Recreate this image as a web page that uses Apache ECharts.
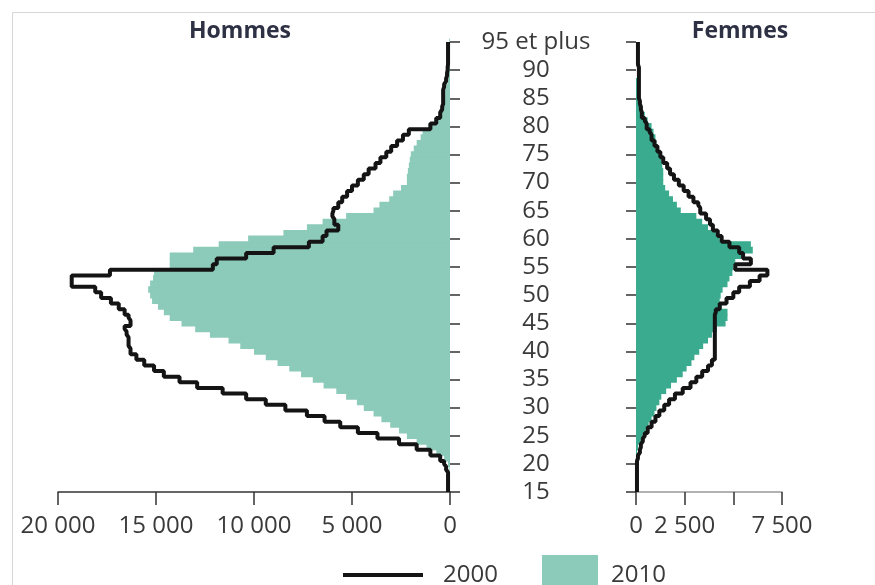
<!DOCTYPE html>
<html>
<head>
<meta charset="utf-8">
<script src="https://cdn.jsdelivr.net/npm/echarts@6/dist/echarts.min.js"></script>
<style>
html,body{margin:0;padding:0;background:#fff;}
#chart{width:875px;height:585px;}
</style>
</head>
<body>
<div id="chart"></div>
<script>
// Ages 15 .. 95 et plus
var ages = [];
for (var a = 15; a <= 95; a++) ages.push(a === 95 ? '95 et plus' : String(a));

// Hommes 2010 (bars), ages 15..95
var men2010 = [
  0, 0, 0, 0, 30, 100, 300, 700, 1200, 1700,          // 15-24
  2200, 2600, 3050, 3500, 3900, 4400, 4750, 5300, 5800, 6450, // 25-34
  7000, 7600, 8200, 8800, 9400, 10000, 10700, 11300, 12250, 13000, // 35-44
  13700, 14300, 14600, 14900, 15200, 15300, 15400, 15300, 15150, 15100, // 45-54
  14300, 14300, 14300, 13100, 11800, 10300, 8500, 7300, 6500, 5300, // 55-64
  3900, 3600, 3100, 2900, 2500, 2200, 2200, 2150, 2100, 2050, // 65-74
  2000, 1850, 1700, 1500, 1400, 1100, 800, 500, 400, 400,     // 75-84
  300, 250, 200, 100, 50, 50, 40, 30, 30, 20, 40               // 85-95
];
// Hommes 2000 (line)
var men2000 = [
  100, 100, 100, 100, 200, 300, 500, 1000, 1700, 2600,
  3700, 4700, 5600, 6400, 7300, 8400, 9400, 10400, 11600, 12900,
  13800, 14600, 15100, 15600, 16000, 16300, 16400, 16400, 16500, 16600,
  16300, 16400, 16600, 16900, 17300, 17800, 18100, 19300, 19300, 17350,
  12100, 11900, 10400, 9000, 7200, 6500, 6300, 5700, 5900, 6000,
  5950, 5700, 5500, 5250, 5000, 4700, 4400, 4150, 3800, 3550,
  3250, 3000, 2700, 2400, 2100, 1000, 700, 500, 400, 350,
  350, 350, 300, 200, 150, 120, 100, 100, 100, 100, 100
];
// Femmes 2010 (bars)
var women2010 = [
  0, 0, 0, 0, 0, 0, 0, 50, 100, 250,
  350, 500, 650, 800, 950, 1050, 1200, 1300, 1550, 1800,
  2100, 2400, 2600, 2850, 3000, 3250, 3450, 3700, 3900, 4150,
  4600, 4700, 4700, 4400, 4300, 4350, 4450, 4700, 4800, 4950,
  5000, 5100, 5400, 6000, 5900, 4300, 4100, 3700, 3400, 3100,
  2300, 2100, 1900, 1700, 1500, 1400, 1400, 1400, 1350, 1300,
  1250, 1150, 1050, 1000, 900, 800, 600, 450, 350, 250,
  200, 150, 100, 50, 0, 0, 0, 0, 0, 0, 0
];
// Femmes 2000 (line)
var women2000 = [
  50, 50, 50, 50, 50, 50, 100, 200, 250, 350,
  450, 600, 800, 1000, 1200, 1450, 1700, 2000, 2400, 2800,
  3100, 3400, 3700, 3900, 4050, 4050, 4050, 4050, 4050, 4050,
  4050, 4050, 4100, 4300, 4650, 5000, 5300, 5850, 6350, 6750,
  5100, 5900, 5500, 5300, 4800, 4400, 4200, 3950, 3800, 3600,
  3300, 3200, 2950, 2700, 2450, 2200, 1950, 1750, 1600, 1400,
  1250, 1100, 950, 800, 700, 550, 450, 300, 250, 200,
  150, 150, 150, 150, 150, 150, 100, 100, 100, 100, 100
];
var menTicks = ['20 000', '15 000', '10 000', '5 000', '0'];
var womenTicks = ['0', '2 500', '', '7 500'];

var FONT = 'Open Sans';
var TXT = '#3a3a3a';
var LIGHT = '#8ccab9';
var DARK = '#3aab8f';

function fmtMen(v) { return menTicks[4 - Math.round(v / 5000)]; }
function fmtWomen(v) { return womenTicks[Math.round(v / 2500)]; }

var chart = echarts.init(document.getElementById('chart'), null, {renderer: 'canvas'});
chart.setOption({
  animation: false,
  backgroundColor: '#fff',
  title: [
    {text: 'Hommes', left: 235, top: 15, textAlign: 'center',
     textStyle: {fontFamily: FONT, fontSize: 23, fontWeight: 'bold', color: '#2e3044'}},
    {text: 'Femmes', left: 735, top: 15, textAlign: 'center',
     textStyle: {fontFamily: FONT, fontSize: 23, fontWeight: 'bold', color: '#2e3044'}}
  ],
  graphic: [{
    type: 'rect', silent: true, z: -1,
    shape: {x: 12.5, y: 12.5, width: 900, height: 600},
    style: {fill: 'none', stroke: '#d6d6d6', lineWidth: 1}
  }],
  legend: [
    {data: ['2000'], left: 338, top: 558, icon: 'rect', itemWidth: 80, itemHeight: 4,
     selectedMode: false,
     textStyle: {fontFamily: FONT, fontSize: 24, color: TXT, padding: [0, 0, 0, 15]}},
    {data: [{name: '2010', itemStyle: {color: LIGHT}}], left: 537, top: 550, icon: 'rect', itemWidth: 56, itemHeight: 40,
     selectedMode: false,
     textStyle: {fontFamily: FONT, fontSize: 24, color: TXT, padding: [0, 0, 0, 8]}}
  ],
  grid: [
    {left: 58, right: 425, top: 42, bottom: 93},
    {left: 636, right: 93, top: 42, bottom: 93}
  ],
  xAxis: [
    {gridIndex: 0, type: 'value', inverse: true, min: 0, max: 20000, interval: 5000,
     axisLine: {show: true, lineStyle: {color: '#333', width: 1.5}},
     axisTick: {show: true, inside: false, length: 13, lineStyle: {color: '#333', width: 1.5}},
     splitLine: {show: false},
     axisLabel: {formatter: fmtMen, fontFamily: FONT, fontSize: 24, color: TXT, margin: 22}},
    {gridIndex: 1, type: 'value', min: 0, max: 7500, interval: 2500,
     axisLine: {show: true, lineStyle: {color: '#999', width: 1.5}},
     axisTick: {show: true, inside: false, length: 13, lineStyle: {color: '#333', width: 1.5}},
     splitLine: {show: false},
     axisLabel: {formatter: fmtWomen, fontFamily: FONT, fontSize: 24, color: TXT, margin: 22}}
  ],
  yAxis: [
    {gridIndex: 0, type: 'category', data: ages, position: 'right', boundaryGap: false,
     axisLine: {show: false},
     axisTick: {show: true, interval: 4, length: 10, lineStyle: {color: '#333', width: 1.5}},
     axisLabel: {show: false}},
    {gridIndex: 1, type: 'category', data: ages, position: 'left', boundaryGap: false,
     axisLine: {show: false},
     axisTick: {show: true, interval: 4, length: 10, lineStyle: {color: '#333', width: 1.5}},
     axisLabel: {show: true, interval: 4, align: 'center', margin: 100,
       fontFamily: FONT, fontSize: 24, color: TXT}}
  ],
  series: [
    {name: '2010', type: 'bar', xAxisIndex: 0, yAxisIndex: 0, data: men2010,
     barWidth: 6.6, barGap: '0%',
     itemStyle: {color: LIGHT}, z: 1},
    {name: '2010', type: 'bar', xAxisIndex: 1, yAxisIndex: 1, data: women2010,
     barWidth: 6.6, barGap: '0%',
     itemStyle: {color: DARK}, z: 1},
    {name: '2000', type: 'line', xAxisIndex: 0, yAxisIndex: 0, data: men2000,
     step: 'middle', symbol: 'none', color: '#141414',
     lineStyle: {color: '#141414', width: 4}, z: 3},
    {name: '2000', type: 'line', xAxisIndex: 1, yAxisIndex: 1, data: women2000,
     step: 'middle', symbol: 'none', color: '#141414',
     lineStyle: {color: '#141414', width: 4}, z: 3}
  ]
});
</script>
</body>
</html>
